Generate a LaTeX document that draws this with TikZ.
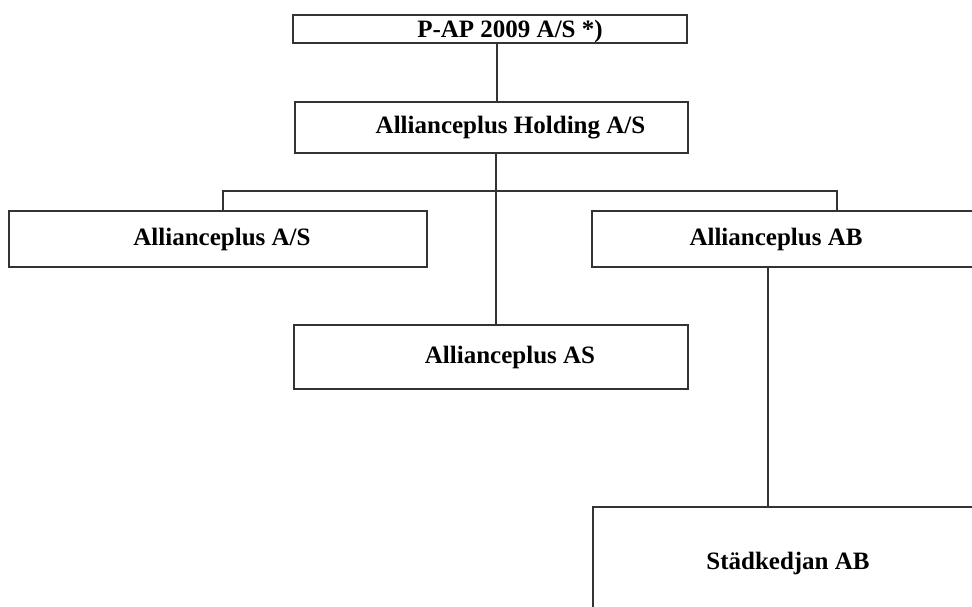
\documentclass[tikz,border=0pt]{standalone}
\usepackage{fontspec}
\setmainfont{Liberation Serif}
\usepackage{tikz}
\usetikzlibrary{positioning}
\tikzset{
  unit/.style={draw=black!80, line width=1.6pt, rectangle, inner sep=0pt,
    font=\bfseries\fontsize{25}{30}\selectfont},
  link/.style={draw=black!80, line width=1.2pt}}

\begin{document}
\begin{tikzpicture}[x=1pt, y=-1pt]
	\useasboundingbox (0,0) rectangle (972,606);
	\fill[white] (0,0) rectangle (972,606);
	\clip (0,0) rectangle (972,606);
	% companies
	\node[unit, minimum width=394, minimum height=28, text depth=0pt] (pap) at (490,29) {\hspace*{40pt}P-AP 2009 A/S *)};
	\node[unit, minimum width=393, minimum height=51] (hold) at (491.5,127.5) {\hspace*{38pt}Allianceplus Holding A/S};
	\node[unit, minimum width=418, minimum height=56] (asa) at (218,239) {\hspace*{8pt}Allianceplus A/S};
	\node[unit, minimum width=408, minimum height=56] (ab) at (796,239) {Allianceplus AB\hspace*{40pt}};
	\node[unit, minimum width=394, minimum height=64] (as) at (491,357) {\hspace*{38pt}Allianceplus AS};
	\node[unit, minimum width=407, minimum height=113] (stk) at (796.5,563.5) {Städkedjan AB\hspace*{17pt}};
	% ownership lines
	\coordinate (barL) at (223,191);
	\coordinate (barR) at (837,191);
	\draw[link] ([xshift=7]pap.south) -- ([xshift=5.5]hold.north);
	\draw[link] ([xshift=4.5]hold.south) -- ([xshift=5]as.north);
	\draw[link] (asa.north -| barL) -- (barL) -- (barR) -- (ab.north -| barR);
	\draw[link] ([xshift=-28]ab.south) -- ([xshift=-28.5]stk.north);
\end{tikzpicture}
\end{document}
